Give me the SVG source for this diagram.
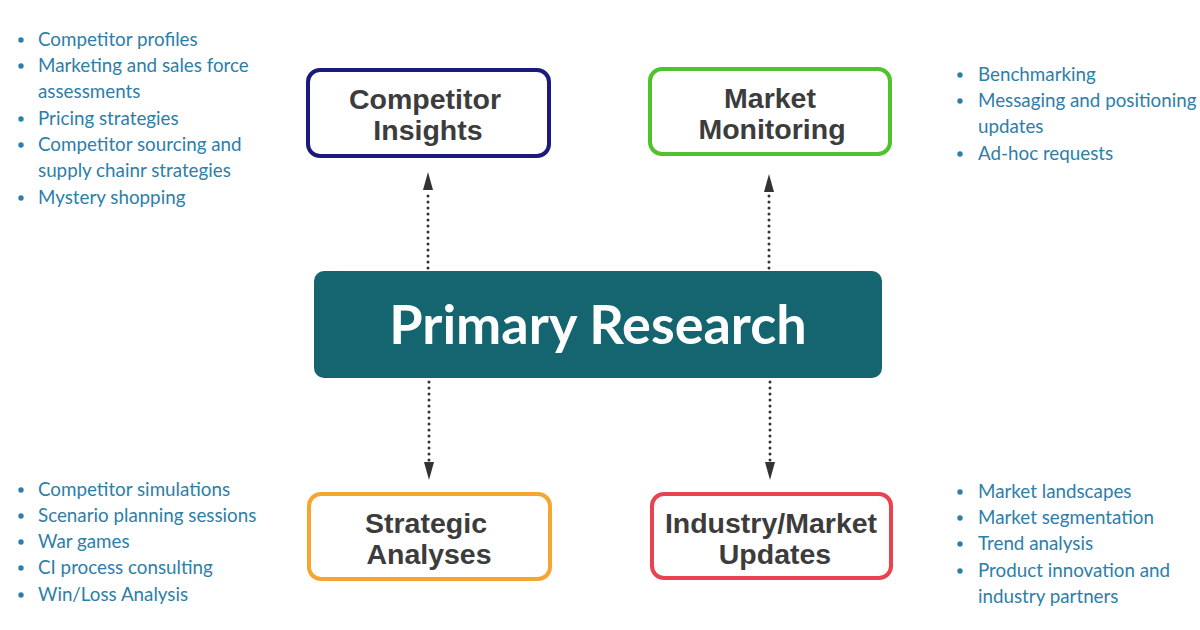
<svg xmlns="http://www.w3.org/2000/svg" width="1200" height="630" viewBox="0 0 1200 630">
<style>
.li{font-family:Lato,"Open Sans",sans-serif;font-size:18.8px;fill:#2d7ea8}
.bul{fill:#2d7ea8}
.bx{fill:#fff;stroke-width:4}
.bt{font-family:"Liberation Sans",Arial,sans-serif;font-weight:bold;font-size:28.5px;fill:#3c3c3c;text-anchor:middle}
.ct{font-family:Lato,"Open Sans",sans-serif;font-weight:bold;font-size:54px;fill:#fff;text-anchor:middle}
.con{stroke:#333;stroke-width:3;stroke-linecap:round;stroke-dasharray:0 6;fill:none}
</style>
<defs>
<marker id="ah" viewBox="0 0 18 10" refX="0" refY="5" markerWidth="18" markerHeight="11" markerUnits="userSpaceOnUse" orient="auto">
<path d="M0,0 L18,5 L0,10 Z" fill="#333"/>
</marker>
</defs>
<rect width="1200" height="630" fill="#fff"/>

<g id="connectors">
<path class="con" d="M428,268 V190" marker-end="url(#ah)"/>
<path class="con" d="M769,268 V192" marker-end="url(#ah)"/>
<path class="con" d="M429,382 V462" marker-end="url(#ah)"/>
<path class="con" d="M770,382 V462" marker-end="url(#ah)"/>
</g>

<g id="primary-research">
<rect x="314" y="271" width="568" height="107" rx="10" fill="#146570"/>
<text class="ct" x="598" y="344">Primary Research</text>
</g>

<g id="competitor-insights">
<rect class="bx" x="308" y="70" width="241" height="86" rx="12" stroke="#1b1a7c"/>
<text class="bt" x="425" y="109">Competitor</text>
<text class="bt" x="428" y="140">Insights</text>
</g>

<g id="market-monitoring">
<rect class="bx" x="650" y="69" width="240" height="85" rx="12" stroke="#4fc22c"/>
<text class="bt" x="770" y="108">Market</text>
<text class="bt" x="772" y="139">Monitoring</text>
</g>

<g id="strategic-analyses">
<rect class="bx" x="309" y="494" width="241" height="85" rx="12" stroke="#f5a630"/>
<text class="bt" x="426" y="533">Strategic</text>
<text class="bt" x="429" y="564">Analyses</text>
</g>

<g id="industry-market-updates">
<rect class="bx" x="652" y="494" width="239" height="84" rx="12" stroke="#e8434f"/>
<text class="bt" x="771" y="533">Industry/Market</text>
<text class="bt" x="775" y="564">Updates</text>
</g>

<g id="list-competitor-insights">
<circle class="bul" cx="21" cy="40" r="2.7"/>
<text class="li" x="38" y="46">Competitor profiles</text>
<circle class="bul" cx="21" cy="66" r="2.7"/>
<text class="li" x="38" y="72">Marketing and sales force</text>
<text class="li" x="38" y="98">assessments</text>
<circle class="bul" cx="21" cy="119" r="2.7"/>
<text class="li" x="38" y="125">Pricing strategies</text>
<circle class="bul" cx="21" cy="145" r="2.7"/>
<text class="li" x="38" y="151">Competitor sourcing and</text>
<text class="li" x="38" y="177">supply chainr strategies</text>
<circle class="bul" cx="21" cy="198" r="2.7"/>
<text class="li" x="38" y="204">Mystery shopping</text>
</g>

<g id="list-market-monitoring">
<circle class="bul" cx="960" cy="75" r="2.7"/>
<text class="li" x="978" y="81">Benchmarking</text>
<circle class="bul" cx="960" cy="101" r="2.7"/>
<text class="li" x="978" y="107">Messaging and positioning</text>
<text class="li" x="978" y="133">updates</text>
<circle class="bul" cx="960" cy="154" r="2.7"/>
<text class="li" x="978" y="160">Ad-hoc requests</text>
</g>

<g id="list-strategic-analyses">
<circle class="bul" cx="21" cy="490" r="2.7"/>
<text class="li" x="38" y="496">Competitor simulations</text>
<circle class="bul" cx="21" cy="516" r="2.7"/>
<text class="li" x="38" y="522">Scenario planning sessions</text>
<circle class="bul" cx="21" cy="542" r="2.7"/>
<text class="li" x="38" y="548">War games</text>
<circle class="bul" cx="21" cy="568" r="2.7"/>
<text class="li" x="38" y="574">CI process consulting</text>
<circle class="bul" cx="21" cy="595" r="2.7"/>
<text class="li" x="38" y="601">Win/Loss Analysis</text>
</g>

<g id="list-industry-market-updates">
<circle class="bul" cx="960" cy="492" r="2.7"/>
<text class="li" x="978" y="498">Market landscapes</text>
<circle class="bul" cx="960" cy="518" r="2.7"/>
<text class="li" x="978" y="524">Market segmentation</text>
<circle class="bul" cx="960" cy="544" r="2.7"/>
<text class="li" x="978" y="550">Trend analysis</text>
<circle class="bul" cx="960" cy="571" r="2.7"/>
<text class="li" x="978" y="577">Product innovation and</text>
<text class="li" x="978" y="603">industry partners</text>
</g>
</svg>
